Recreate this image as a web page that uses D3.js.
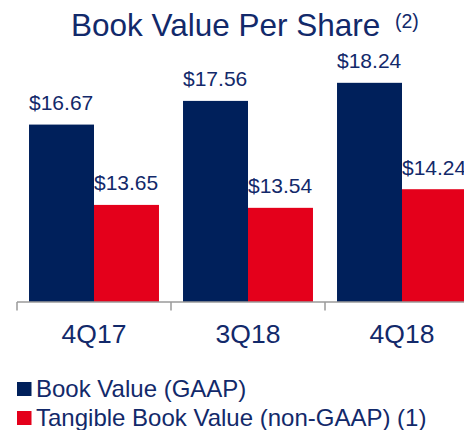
<!DOCTYPE html>
<html>
<head>
<meta charset="utf-8">
<script src="https://cdn.jsdelivr.net/npm/d3@7"></script>
<style>
  html, body { margin: 0; padding: 0; background: #fff; }
  svg { display: block; font-family: "Liberation Sans", Arial, sans-serif; }
</style>
</head>
<body>
<div id="chart"></div>
<script>
// chart data
var quarters = ['4Q17', '3Q18', '4Q18'];
var seriesNames = ['Book Value (GAAP)', 'Tangible Book Value (non-GAAP) (1)'];
var bookValue = [16.67, 17.56, 18.24];
var tangibleValue = [13.65, 13.54, 14.24];

var width = 464, height = 430;
var textColor = '#12296a';
var colors = ['#00205b', '#e4001b'];

var svg = d3.select('#chart')
  .append('svg')
  .attr('width', width)
  .attr('height', height);

// title
svg.append('text')
  .attr('x', 71)
  .attr('y', 36)
  .attr('fill', textColor)
  .style('font-size', '31.5px')
  .text('Book Value Per Share');
svg.append('text')
  .attr('x', 395)
  .attr('y', 27.5)
  .attr('fill', textColor)
  .style('font-size', '19.5px')
  .text('(2)');

var baseY = 302;

var x = d3.scaleBand()
  .domain(quarters)
  .range([17, 479])
  .padding(0);

var xSub = d3.scaleBand()
  .domain(seriesNames)
  .range([0, x.bandwidth()])
  .paddingInner(0)
  .paddingOuter(0.185);

var y = d3.scaleLinear()
  .domain([10, 20])
  .range([baseY, baseY - 266]);

var rows = quarters.map(function(q, i) {
  return { quarter: q, values: [bookValue[i], tangibleValue[i]] };
});

var groups = svg.selectAll('g.quarter')
  .data(rows)
  .enter()
  .append('g')
  .attr('class', 'quarter')
  .attr('transform', function(d) { return 'translate(' + x(d.quarter) + ',0)'; });

var bars = groups.selectAll('g.bar')
  .data(function(d) {
    return d.values.map(function(v, i) { return { name: seriesNames[i], value: v, idx: i }; });
  })
  .enter()
  .append('g')
  .attr('class', 'bar');

bars.append('rect')
  .attr('x', function(d) { return xSub(d.name); })
  .attr('y', function(d) { return y(d.value); })
  .attr('width', xSub.bandwidth())
  .attr('height', function(d) { return baseY - y(d.value); })
  .attr('fill', function(d) { return colors[d.idx]; });

// value labels (last one runs off the right edge, as in the source)
bars.append('text')
  .attr('x', function(d) { return xSub(d.name); })
  .attr('y', function(d) { return y(d.value) - 14.5; })
  .attr('fill', textColor)
  .style('font-size', '21px')
  .text(function(d) { return '$' + d.value.toFixed(2); });

// axis line and boundary ticks
var axis = svg.append('g')
  .attr('transform', 'translate(0,' + baseY + ')');
axis.append('line')
  .attr('x1', x.range()[0])
  .attr('x2', x.range()[1])
  .attr('stroke', '#9a9a9a')
  .attr('stroke-width', 1.5);
var bounds = quarters.map(function(q) { return x(q); }).concat([x.range()[1]]);
axis.selectAll('line.tick')
  .data(bounds)
  .enter()
  .append('line')
  .attr('class', 'tick')
  .attr('x1', function(d) { return d; })
  .attr('x2', function(d) { return d; })
  .attr('y1', 0)
  .attr('y2', 8.5)
  .attr('stroke', '#9a9a9a')
  .attr('stroke-width', 1.5);

axis.selectAll('text')
  .data(quarters)
  .enter()
  .append('text')
  .attr('x', function(d) { return x(d) + x.bandwidth() / 2; })
  .attr('y', 41)
  .attr('text-anchor', 'middle')
  .attr('fill', textColor)
  .style('font-size', '26.5px')
  .text(function(d) { return d; });

// legend
var legend = svg.selectAll('g.legend')
  .data(seriesNames)
  .enter()
  .append('g')
  .attr('class', 'legend')
  .attr('transform', function(d, i) { return 'translate(17,' + (382 + i * 29) + ')'; });

legend.append('rect')
  .attr('width', 14.5)
  .attr('height', 14)
  .attr('fill', function(d, i) { return colors[i]; });

legend.append('text')
  .attr('x', 19)
  .attr('y', 14.5)
  .attr('fill', textColor)
  .style('font-size', '24px')
  .text(function(d) { return d; });
</script>
</body>
</html>
